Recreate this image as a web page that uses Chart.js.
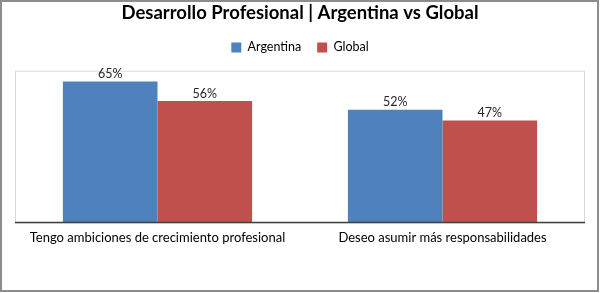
<!DOCTYPE html>
<html>
<head>
<meta charset="utf-8">
<script src="https://cdn.jsdelivr.net/npm/chart.js@4.4.0/dist/chart.umd.min.js"></script>
<style>
  html, body { margin: 0; padding: 0; background: #fff; }
  #wrap { position: relative; width: 600px; height: 293px; }
  #grafico { display: block; }
</style>
</head>
<body>
<div id="wrap"><canvas id="grafico" width="600" height="293"></canvas></div>
<script>
const categorias = ['Tengo ambiciones de crecimiento profesional', 'Deseo asumir más responsabilidades'];
const argentina = [65, 52];
const global = [56, 47];
const titulo = 'Desarrollo Profesional | Argentina vs Global';

const fuente = 'Lato, Calibri, sans-serif';

// marco del grafico, borde del area de dibujo y etiquetas de valor
const extras = {
  id: 'extras',
  afterInit(chart) {
    // mas aire debajo de la leyenda
    const fitOrig = chart.legend.fit;
    chart.legend.fit = function () {
      fitOrig.call(this);
      this.height += 7;
    };
  },
  beforeDraw(chart) {
    const ctx = chart.ctx;
    const a = chart.chartArea;
    ctx.save();
    ctx.strokeStyle = '#d9d9d9';
    ctx.lineWidth = 1;
    ctx.strokeRect(a.left + 0.5, a.top + 0.5, a.right - a.left - 1, a.bottom - a.top);
    ctx.restore();
  },
  afterDraw(chart) {
    const ctx = chart.ctx;
    const a = chart.chartArea;
    ctx.save();
    ctx.strokeStyle = '#404040';
    ctx.lineWidth = 1.5;
    ctx.beginPath();
    ctx.moveTo(a.left, a.bottom);
    ctx.lineTo(a.right, a.bottom);
    ctx.stroke();

    ctx.font = '12.5px ' + fuente;
    ctx.fillStyle = '#262626';
    ctx.textAlign = 'center';
    ctx.textBaseline = 'bottom';
    chart.data.datasets.forEach((ds, i) => {
      chart.getDatasetMeta(i).data.forEach((bar, j) => {
        ctx.fillText(ds.data[j] + '%', bar.x, bar.y - 1);
      });
    });

    ctx.strokeStyle = '#8c8c8c';
    ctx.lineWidth = 2;
    ctx.strokeRect(1, 1, chart.width - 3, chart.height - 3);
    ctx.restore();
  }
};

new Chart(document.getElementById('grafico'), {
  type: 'bar',
  data: {
    labels: categorias,
    datasets: [
      { label: 'Argentina', data: argentina, backgroundColor: '#4F81BD' },
      { label: 'Global', data: global, backgroundColor: '#C0504D' }
    ]
  },
  options: {
    responsive: false,
    animation: false,
    datasets: { bar: { categoryPercentage: 0.664, barPercentage: 1.0 } },
    layout: { padding: { left: 15, right: 15, top: 0, bottom: 47 } },
    scales: {
      x: {
        grid: { display: false },
        border: { display: false },
        ticks: { color: '#000', font: { family: fuente, size: 13 }, padding: 0 }
      },
      y: {
        display: false,
        min: 0,
        max: 70
      }
    },
    plugins: {
      title: {
        display: true,
        text: titulo,
        color: '#000',
        font: { family: fuente, size: 18.5, weight: 'bold' },
        padding: { top: 2, bottom: 1 }
      },
      legend: {
        display: true,
        labels: {
          color: '#000',
          boxWidth: 10,
          boxHeight: 10,
          font: { family: fuente, size: 12.5 },
          padding: 16
        }
      },
      tooltip: { enabled: false }
    }
  },
  plugins: [extras]
});
</script>
</body>
</html>
